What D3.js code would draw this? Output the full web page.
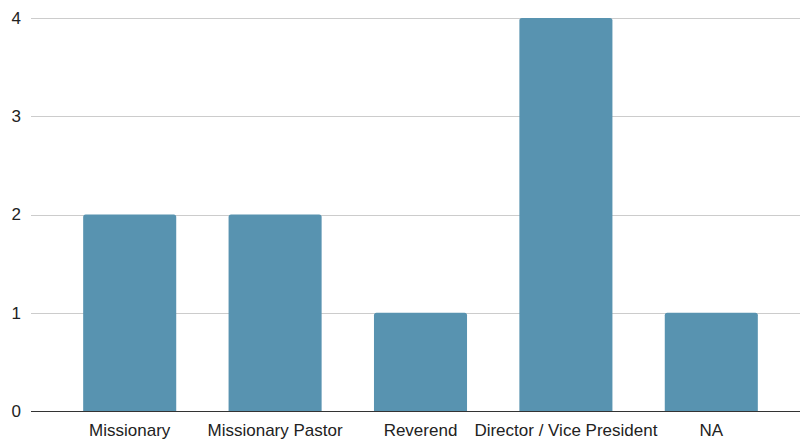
<!DOCTYPE html>
<html>
<head>
<meta charset="utf-8">
<script src="https://cdn.jsdelivr.net/npm/d3@7"></script>
<style>
  html, body { margin: 0; padding: 0; background: #fff; }
  svg { display: block; font-family: "Liberation Sans", Arial, sans-serif; }
</style>
</head>
<body>
<svg id="chart" width="800" height="442"></svg>
<script>
const categories = ["Missionary", "Missionary Pastor", "Reverend", "Director / Vice President", "NA"];
const counts = [2, 2, 1, 4, 1];
const yTicks = [0, 1, 2, 3, 4];

const svg = d3.select("#chart");
const gridLeft = 31, gridRight = 800;

const x = d3.scaleBand()
  .domain(categories)
  .range([57, 784])
  .paddingInner(0.36)
  .paddingOuter(0.18);

const y = d3.scaleLinear()
  .domain([0, 4])
  .range([411, 18]);

// horizontal gridlines
svg.append("g")
  .selectAll("line")
  .data(yTicks.filter(d => d !== 0))
  .join("line")
  .attr("x1", gridLeft)
  .attr("x2", gridRight)
  .attr("y1", d => Math.round(y(d)) + 0.5)
  .attr("y2", d => Math.round(y(d)) + 0.5)
  .attr("stroke", "#cccccc")
  .attr("stroke-width", 1);

// y tick labels
svg.append("g")
  .selectAll("text")
  .data(yTicks)
  .join("text")
  .attr("x", 21)
  .attr("y", d => y(d))
  .attr("dy", "0.35em")
  .attr("text-anchor", "end")
  .attr("font-size", 17)
  .attr("fill", "#222")
  .text(d => d);

// bars with slightly rounded tops
const r = 2.5;
svg.append("g")
  .selectAll("path")
  .data(categories.map((c, i) => ({ c, v: counts[i] })))
  .join("path")
  .attr("fill", "#5893b0")
  .attr("d", d => {
    const x0 = x(d.c), w = x.bandwidth();
    const y0 = y(d.v), yb = y(0);
    return `M${x0},${yb}V${y0 + r}Q${x0},${y0} ${x0 + r},${y0}H${x0 + w - r}Q${x0 + w},${y0} ${x0 + w},${y0 + r}V${yb}Z`;
  });

// baseline
svg.append("line")
  .attr("x1", gridLeft)
  .attr("x2", gridRight)
  .attr("y1", Math.round(y(0)) + 0.5)
  .attr("y2", Math.round(y(0)) + 0.5)
  .attr("stroke", "#333")
  .attr("stroke-width", 1);

// category labels
svg.append("g")
  .selectAll("text")
  .data(categories)
  .join("text")
  .attr("x", d => x(d) + x.bandwidth() / 2)
  .attr("y", 436)
  .attr("text-anchor", "middle")
  .attr("font-size", 17)
  .attr("fill", "#222")
  .text(d => d);
</script>
</body>
</html>
